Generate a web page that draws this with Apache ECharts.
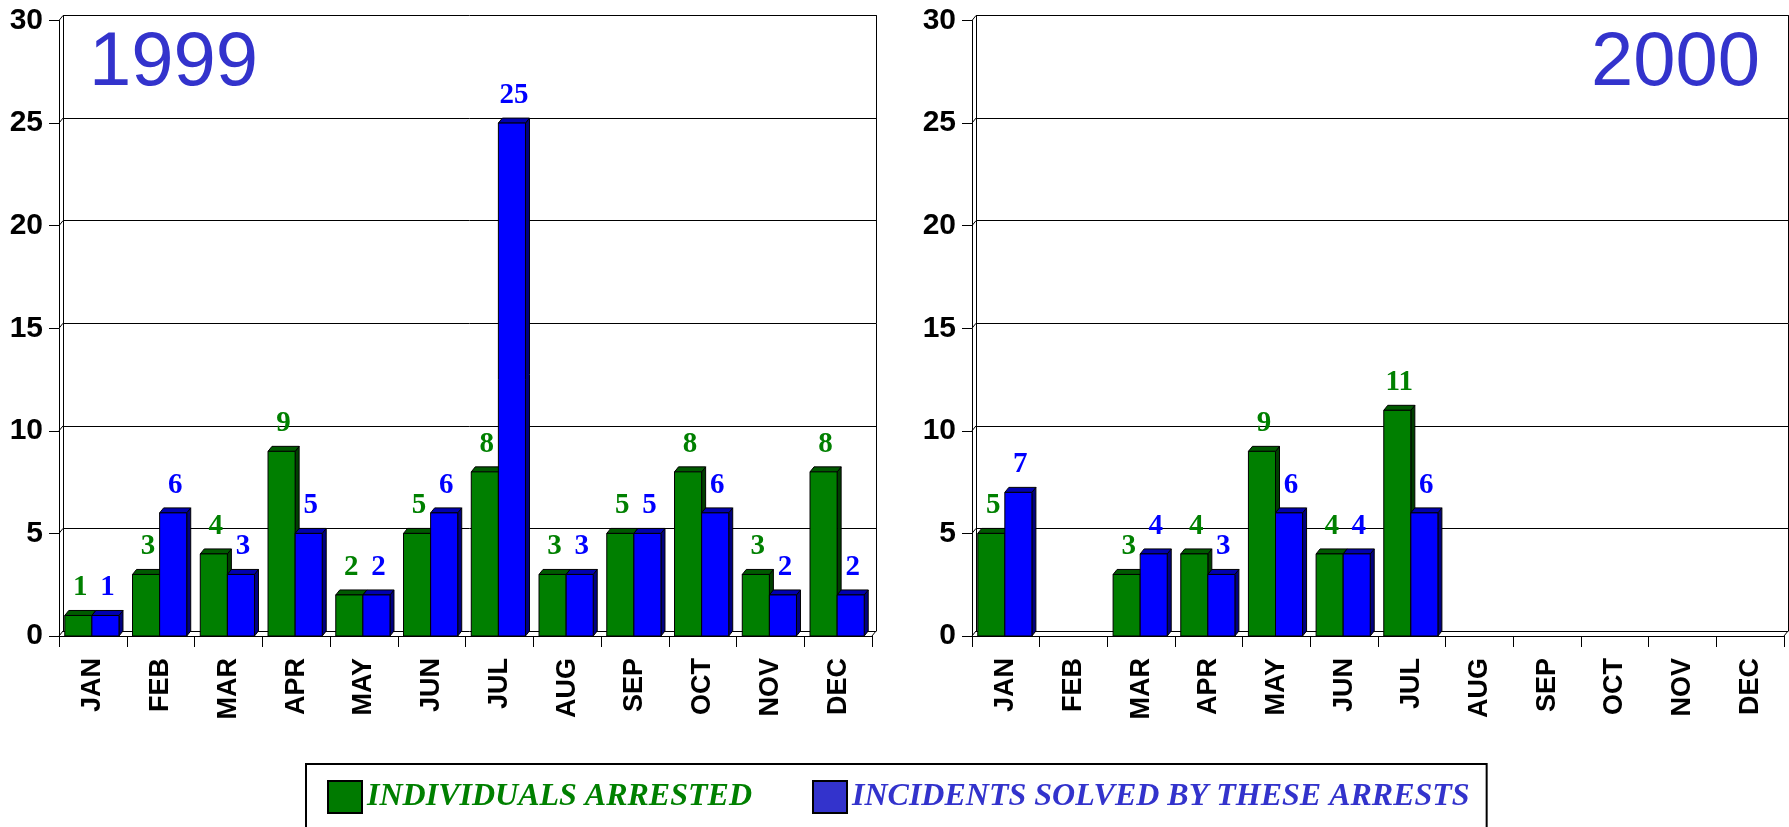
<!DOCTYPE html>
<html lang="en">
<head>
<meta charset="UTF-8" />
<title>Individuals arrested 1999 - 2000</title>
<script src="https://cdn.jsdelivr.net/npm/echarts@6.0.0/dist/echarts.min.js"></script>
<style>
  html, body { margin: 0; padding: 0; background: #fff; }
  #lienzo { width: 1789px; height: 827px; }
</style>
</head>
<body>
<div id="lienzo"></div>
<script>
// data
const months = ['JAN', 'FEB', 'MAR', 'APR', 'MAY', 'JUN', 'JUL', 'AUG', 'SEP', 'OCT', 'NOV', 'DEC'];
const arrested1999 = [1, 3, 4, 9, 2, 5, 8, 3, 5, 8, 3, 8];
const solved1999 = [1, 6, 3, 5, 2, 6, 25, 3, 5, 6, 2, 2];
const arrested2000 = [5, null, 3, 4, 9, 4, 11, null, null, null, null, null];
const solved2000 = [7, null, 4, 3, 6, 4, 6, null, null, null, null, null];
const yTicks = [0, 5, 10, 15, 20, 25, 30];

const NAME_A = 'INDIVIDUALS ARRESTED';
const NAME_B = 'INCIDENTS SOLVED BY THESE ARRESTS';

const DX = 4, DY = 5;   // 3d depth
const sans = '"Liberation Sans", Arial, sans-serif';
const serif = '"Liberation Serif", "Times New Roman", serif';

function bar3d(leftSide, frontColor, topColor, sideColor, labelColor) {
    return function (params, api) {
        const v = api.value(1);
        if (v == null || isNaN(v)) return null;
        const base = api.coord([api.value(0), 0]);
        const peak = api.coord([api.value(0), v]);
        const bw = api.size([1, 0])[0] * 0.4;
        const x0 = leftSide ? base[0] - bw - 1 : base[0] - 1;
        const y0 = peak[1], y1 = base[1];
        return {
            type: 'group',
            children: [
                { type: 'polygon', shape: { points: [[x0 + bw, y0], [x0 + bw + DX, y0 - DY], [x0 + bw + DX, y1 - DY], [x0 + bw, y1]] },
                  style: { fill: sideColor, stroke: '#000', lineWidth: 1 } },
                { type: 'polygon', shape: { points: [[x0, y0], [x0 + DX, y0 - DY], [x0 + bw + DX, y0 - DY], [x0 + bw, y0]] },
                  style: { fill: topColor, stroke: '#000', lineWidth: 1 } },
                { type: 'rect', shape: { x: x0, y: y0, width: bw, height: y1 - y0 },
                  style: { fill: frontColor, stroke: '#000', lineWidth: 1 } },
                { type: 'text', x: x0 + bw / 2 + DX / 2, y: y0 - DY - 8,
                  style: { text: String(v), fill: labelColor, font: 'bold 29px ' + serif, align: 'center', verticalAlign: 'bottom' } }
            ]
        };
    };
}

// little slanted joins between the front axis and the back wall
function frameJoins(params, api) {
    const cs = params.coordSys;
    const y = api.coord([0, api.value(1)])[1];
    const kids = [{ type: 'line', shape: { x1: cs.x, y1: y, x2: cs.x + DX, y2: y - DY }, style: { stroke: '#000', lineWidth: 1 } }];
    if (api.value(1) === 0) {
        kids.push({ type: 'line', shape: { x1: cs.x + cs.width, y1: y, x2: cs.x + cs.width + DX, y2: y - DY }, style: { stroke: '#000', lineWidth: 1 } });
    }
    return { type: 'group', children: kids };
}

const toPairs = arr => arr.map((v, i) => [i, v]);

const fronts = [{ left: 59, width: 813 }, { left: 972, width: 812 }];
const gridTop = 20.5, gridH = 615.5;

const grids = [];
fronts.forEach(f => {
    grids.push({ left: f.left, top: gridTop, width: f.width, height: gridH });
    grids.push({ left: f.left + DX, top: gridTop - DY, width: f.width, height: gridH });
});

const xAxes = [], yAxes = [];
[0, 2].forEach(g => {
    xAxes.push({
        type: 'category', gridIndex: g, data: months,
        axisLine: { lineStyle: { color: '#000', width: 1 } },
        axisTick: { show: true, length: 11, lineStyle: { color: '#000' } },
        axisLabel: { rotate: 90, margin: 22, color: '#000', fontFamily: sans, fontWeight: 'bold', fontSize: 27, interval: 0 }
    });
    xAxes.push({ type: 'category', gridIndex: g + 1, data: months, show: false });
    yAxes.push({
        type: 'value', gridIndex: g, min: 0, max: 30, interval: 5,
        axisLine: { show: true, lineStyle: { color: '#000', width: 1 } },
        axisTick: { show: true, length: 10, lineStyle: { color: '#000' } },
        axisLabel: { margin: 16, color: '#000', fontFamily: sans, fontWeight: 'bold', fontSize: 30 },
        splitLine: { show: false }
    });
    yAxes.push({
        type: 'value', gridIndex: g + 1, min: 0, max: 30, interval: 5,
        axisLine: { show: true, lineStyle: { color: '#000', width: 1 } },
        axisTick: { show: false }, axisLabel: { show: false },
        splitLine: { show: true, lineStyle: { color: '#000', width: 1 } }
    });
    yAxes.push({
        type: 'value', gridIndex: g + 1, min: 0, max: 30, interval: 5, position: 'right',
        axisLine: { show: true, lineStyle: { color: '#000', width: 1 } },
        axisTick: { show: false }, axisLabel: { show: false }, splitLine: { show: false }
    });
});

const chart = echarts.init(document.getElementById('lienzo'));

const series = [];
[[arrested1999, solved1999, 0], [arrested2000, solved2000, 2]].forEach(([a, b, g]) => {
    const yi = g === 0 ? 0 : 3;
    series.push({ type: 'custom', name: 'frame', xAxisIndex: g, yAxisIndex: yi, data: yTicks.map(t => [0, t]),
        renderItem: frameJoins, silent: true, z: 1 });
    series.push({ type: 'custom', name: NAME_A, xAxisIndex: g, yAxisIndex: yi, data: toPairs(a),
        renderItem: bar3d(true, '#007F00', '#005A00', '#004000', '#008000') });
    series.push({ type: 'custom', name: NAME_B, xAxisIndex: g, yAxisIndex: yi, data: toPairs(b),
        renderItem: bar3d(false, '#0000FF', '#0000B0', '#000080', '#0000FF') });
});

chart.setOption({
    animation: false,
    title: [
        { text: '1999', left: 89, top: 26, padding: 0, textStyle: { color: '#3333CC', fontSize: 76, fontWeight: 'normal', fontFamily: sans } },
        { text: '2000', right: 29, top: 26, padding: 0, textStyle: { color: '#3333CC', fontSize: 76, fontWeight: 'normal', fontFamily: sans } }
    ],
    grid: grids,
    xAxis: xAxes,
    yAxis: yAxes,
    legend: {
        left: 306, top: 764,
        padding: [16, 17, 40, 21],
        borderColor: '#000', borderWidth: 2,
        itemWidth: 34, itemHeight: 32, itemGap: 60,
        selectedMode: false,
        textStyle: { fontFamily: serif, fontWeight: 'bold', fontStyle: 'italic', fontSize: 32 },
        data: [
            { name: NAME_A, icon: 'rect', itemStyle: { color: '#007A00', borderColor: '#000', borderWidth: 2 }, textStyle: { color: '#008000' } },
            { name: NAME_B, icon: 'rect', itemStyle: { color: '#3333CC', borderColor: '#000', borderWidth: 2 }, textStyle: { color: '#3333CC' } }
        ]
    },
    series: series
});
</script>
</body>
</html>
